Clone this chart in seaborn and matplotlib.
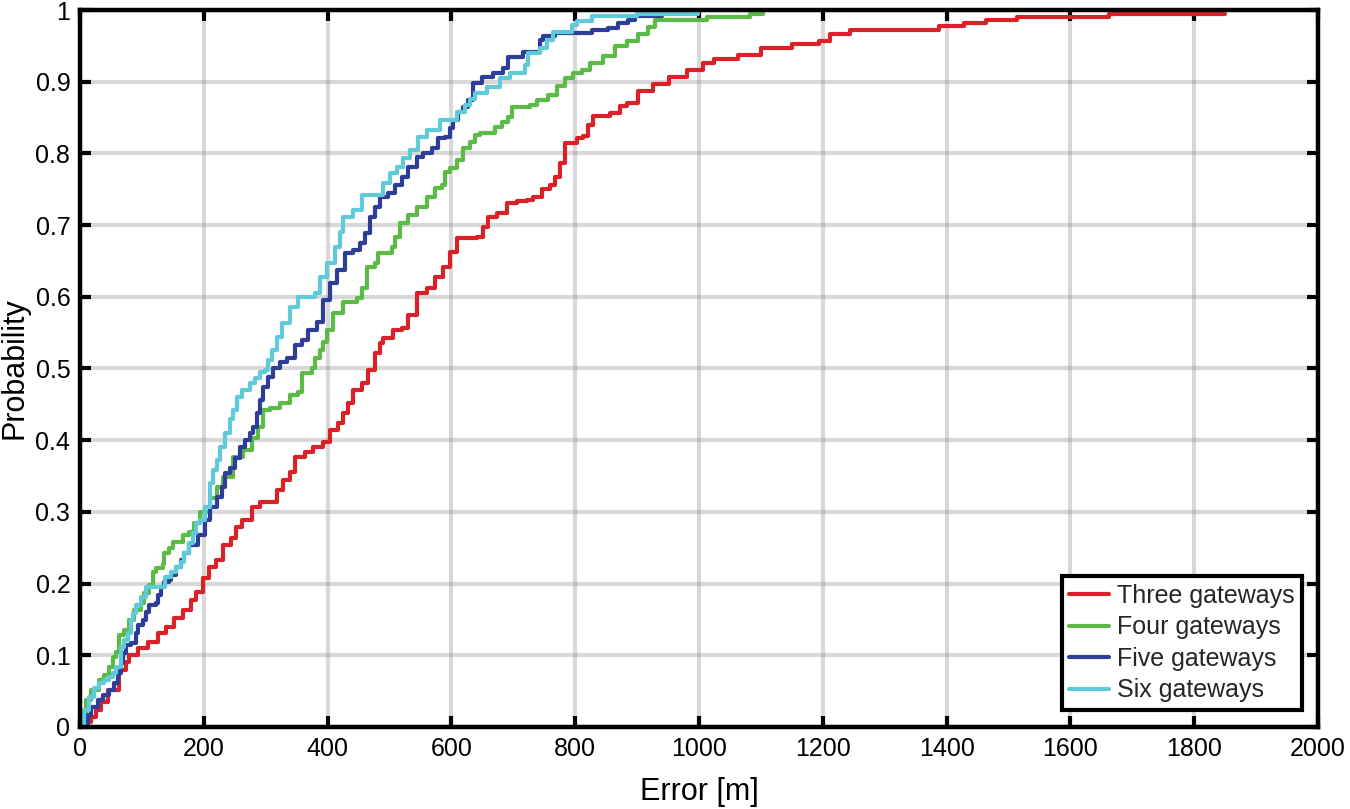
import matplotlib
matplotlib.use("Agg")
import matplotlib.pyplot as plt
import seaborn as sns
import pandas as pd

series_names = ["Three gateways", "Four gateways", "Five gateways", "Six gateways"]
series_colors = ["#DA2128", "#5CBA47", "#2E3D98", "#5FCAD8"]

three_x = [0, 13, 18, 26, 34, 45, 63, 74, 79, 94, 110, 126, 139, 152, 166, 179,
           187, 199, 208, 220, 231, 244, 252, 262, 278, 291, 318, 328, 339, 347,
           363, 376, 393, 404, 417, 425, 433, 441, 455, 465, 477, 485, 490, 506,
           520, 530, 544, 560, 573, 587, 598, 609, 641, 651, 659, 673, 690, 706,
           722, 732, 746, 759, 767, 775, 783, 803, 813, 821, 829, 856, 872, 883,
           901, 926, 951, 980, 1006, 1024, 1063, 1100, 1150, 1194, 1212, 1244,
           1388, 1428, 1464, 1514, 1662, 1850]
three_y = [0, .007, .014, .024, .035, .051, .079, .091, .1, .11, .119, .131, .14,
           .152, .163, .177, .188, .208, .223, .233, .254, .264, .279, .289, .307,
           .314, .33, .344, .356, .377, .384, .391, .398, .414, .424, .438, .452,
           .47, .48, .498, .521, .535, .543, .554, .556, .574, .605, .612, .628,
           .642, .663, .682, .684, .697, .711, .717, .731, .733, .735, .739, .751,
           .756, .767, .786, .814, .821, .824, .839, .852, .856, .866, .87, .887,
           .897, .907, .917, .926, .932, .937, .947, .953, .957, .966, .972, .978,
           .982, .986, .99, .994, .995]

four_x = [0, 2, 10, 18, 31, 39, 47, 53, 58, 63, 71, 79, 87, 98, 104, 111, 118,
          123, 134, 136, 144, 150, 166, 176, 184, 194, 210, 221, 231, 247, 263,
          278, 288, 296, 307, 323, 339, 352, 358, 375, 380, 388, 393, 399, 409,
          425, 447, 455, 463, 477, 482, 504, 509, 517, 530, 544, 560, 573, 584,
          589, 598, 609, 619, 630, 638, 646, 670, 682, 691, 698, 727, 738, 756,
          770, 784, 797, 811, 824, 845, 864, 883, 901, 918, 929, 1013, 1082, 1103]
four_y = [0, .005, .037, .051, .065, .072, .084, .098, .104, .128, .135, .149,
          .163, .173, .187, .198, .216, .222, .228, .243, .25, .258, .268, .272,
          .284, .3, .319, .335, .349, .377, .386, .403, .419, .442, .445, .452,
          .463, .467, .494, .501, .515, .526, .537, .554, .577, .593, .598, .612,
          .642, .647, .661, .67, .684, .703, .714, .725, .739, .752, .756, .774,
          .78, .791, .807, .816, .826, .828, .837, .844, .851, .865, .868, .874,
          .882, .894, .905, .912, .917, .926, .936, .95, .957, .966, .977, .986,
          .99, .994, .997]

five_x = [0, 6, 13, 18, 29, 37, 47, 55, 61, 66, 70, 74, 82, 90, 94, 102, 107,
          111, 123, 126, 131, 136, 144, 147, 155, 163, 168, 176, 191, 202, 210,
          221, 229, 234, 242, 250, 258, 267, 275, 280, 286, 291, 296, 304, 312,
          323, 334, 347, 358, 368, 383, 393, 404, 415, 428, 441, 452, 460, 468,
          477, 485, 498, 509, 520, 530, 544, 554, 568, 578, 589, 598, 603, 611,
          619, 627, 635, 649, 667, 684, 691, 716, 743, 748, 767, 827, 853, 869,
          885, 897, 940]
five_y = [0, .005, .017, .028, .037, .044, .051, .061, .075, .089, .103, .114,
          .117, .131, .142, .149, .161, .17, .173, .184, .195, .202, .205, .212,
          .223, .233, .243, .254, .268, .289, .307, .321, .335, .354, .361, .375,
          .391, .4, .41, .419, .438, .456, .474, .488, .501, .509, .515, .533,
          .54, .554, .565, .596, .619, .637, .661, .665, .675, .689, .711, .725,
          .739, .745, .756, .767, .781, .795, .8, .807, .821, .823, .835, .847,
          .858, .865, .874, .898, .907, .912, .919, .934, .941, .958, .964, .968,
          .972, .975, .982, .986, .991, .993]

six_x = [0, 2, 6, 15, 23, 31, 39, 47, 53, 58, 66, 71, 78, 82, 86, 90, 99, 107,
         137, 147, 155, 163, 168, 176, 183, 187, 194, 202, 210, 215, 221, 226,
         234, 242, 247, 253, 262, 275, 283, 291, 299, 304, 310, 318, 326, 339,
         352, 380, 388, 399, 412, 420, 425, 441, 455, 490, 501, 512, 522, 533,
         546, 560, 582, 609, 622, 630, 638, 657, 679, 695, 719, 724, 743, 754,
         764, 795, 803, 827, 900, 998]
six_y = [0, .003, .024, .042, .054, .061, .066, .07, .075, .084, .112, .121,
         .131, .149, .159, .17, .181, .195, .209, .216, .223, .23, .243, .257,
         .27, .284, .289, .307, .34, .358, .372, .391, .41, .43, .442, .46, .47,
         .48, .487, .495, .498, .512, .526, .544, .563, .586, .6, .605, .628,
         .647, .67, .69, .711, .721, .742, .759, .773, .781, .793, .805, .823,
         .833, .847, .858, .867, .876, .884, .893, .905, .912, .923, .94, .947,
         .958, .97, .979, .985, .991, .995, .997]

x_ticks = list(range(0, 2001, 200))
y_ticks = [i / 10 for i in range(11)]
y_tick_labels = ["0", "0.1", "0.2", "0.3", "0.4", "0.5", "0.6", "0.7", "0.8", "0.9", "1"]

frames = []
for name, xs, ys in zip(series_names,
                        [three_x, four_x, five_x, six_x],
                        [three_y, four_y, five_y, six_y]):
    frames.append(pd.DataFrame({"Error": xs, "Probability": ys, "Setup": name}))
df = pd.concat(frames, ignore_index=True)

sns.set_theme(style="white")
plt.rcParams["font.family"] = ["Liberation Sans", "DejaVu Sans"]

fig = plt.figure(figsize=(13.5, 8.09), dpi=100)
ax = fig.add_axes([0.0593, 0.1014, 0.9170, 0.8862])

sns.lineplot(data=df, x="Error", y="Probability", hue="Setup",
             hue_order=series_names, palette=series_colors,
             estimator=None, sort=False, drawstyle="steps-post",
             linewidth=3.0, ax=ax, legend=True)

ax.set_xlim(0, 2000)
ax.set_ylim(0, 1)
ax.set_xticks(x_ticks)
ax.set_xticklabels([str(t) for t in x_ticks])
ax.set_yticks(y_ticks)
ax.set_yticklabels(y_tick_labels)

ax.grid(True, color="#808080", alpha=0.3, linewidth=3)
ax.set_axisbelow(True)

for side in ["top", "bottom", "left", "right"]:
    ax.spines[side].set_visible(True)
    ax.spines[side].set_color("black")
    ax.spines[side].set_linewidth(3.2)
    ax.spines[side].set_zorder(5)

ax.tick_params(axis="both", which="major", direction="in", length=8, width=3,
               color="black", labelsize=18, labelcolor="black", pad=7,
               top=True, right=True, bottom=True, left=True)

ax.set_xlabel("Error [m]", fontsize=22, labelpad=12, color="black")
ax.set_ylabel("Probability", fontsize=22, labelpad=4, color="black")

old = ax.get_legend()
handles = old.legend_handles
labels = [t.get_text() for t in old.get_texts()]
for h, c in zip(handles, series_colors):
    h.set_linewidth(3.0)
    h.set_color(c)
leg = ax.legend(handles, labels, loc="lower right",
                bbox_to_anchor=(0.987, 0.0237), borderaxespad=0,
                fontsize=18, frameon=True, fancybox=False, framealpha=1,
                edgecolor="black", handlelength=1.6, handletextpad=0.3,
                labelspacing=0.3, borderpad=0.3)
leg.get_frame().set_linewidth(3)
leg.set_zorder(6)

fig.savefig("out.png", dpi=100)
